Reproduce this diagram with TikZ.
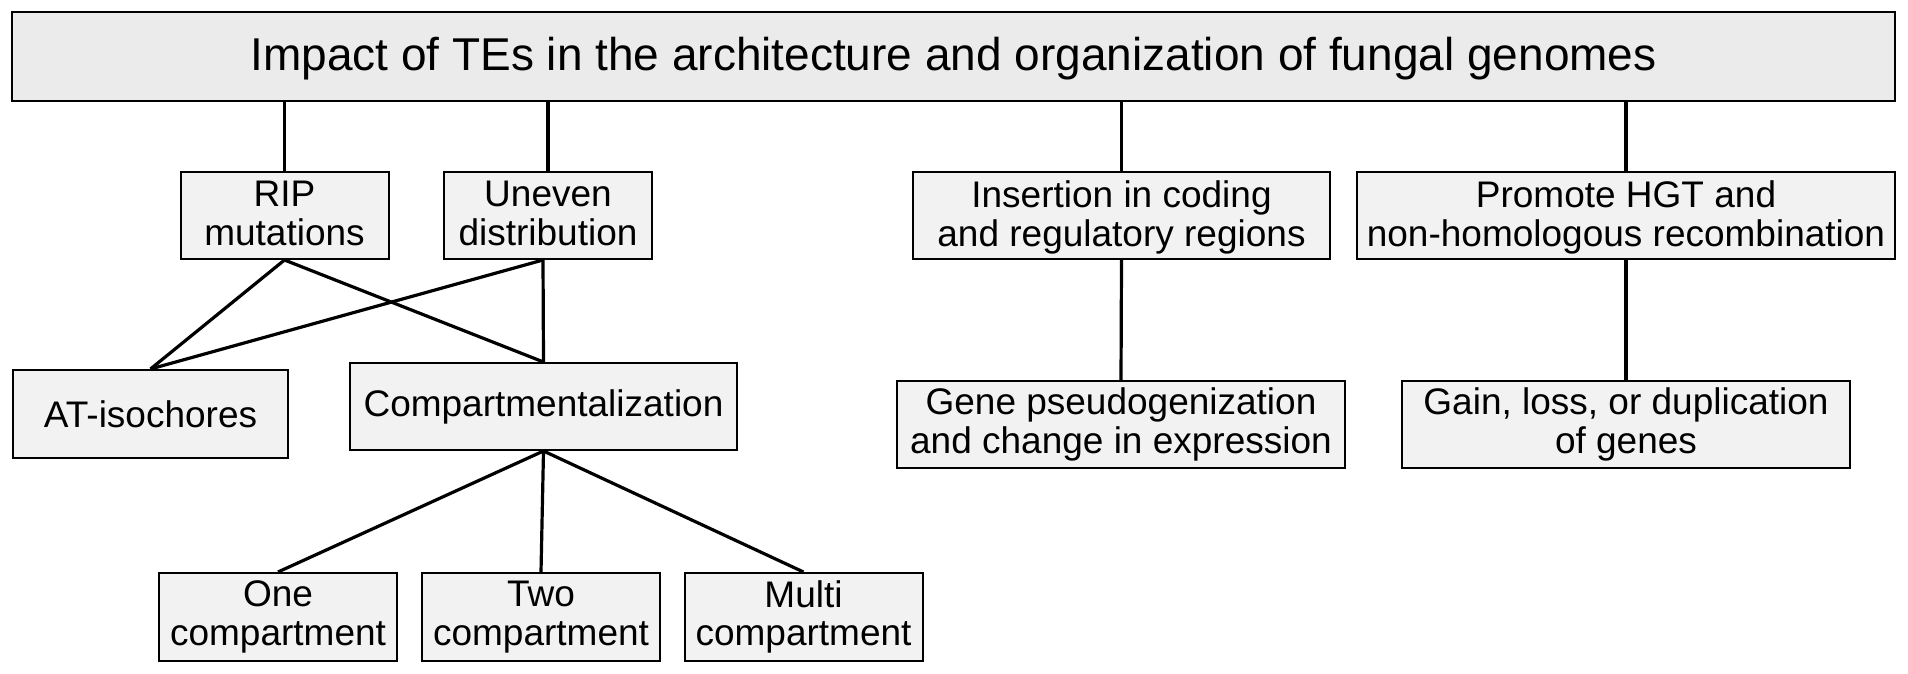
\documentclass[tikz,border=0pt]{standalone}
\usepackage{fontspec}
\setmainfont{Liberation Sans}
\definecolor{boxfill}{HTML}{F2F2F2}
\definecolor{titlefill}{HTML}{EBEBEB}
\begin{document}
\begin{tikzpicture}[x=1pt,y=-1pt,
  box/.style={draw=black,line width=2pt,fill=boxfill,inner sep=0pt,minimum height=87pt,
    align=center,font=\fontsize{37}{38.5}\selectfont},
  toprow/.style={box,text depth=4pt},
  link/.style={line width=3.2pt}]
\useasboundingbox (0,0) rectangle (1908,674);
\node[box,fill=titlefill,minimum width=1883pt,minimum height=89pt,text depth=5pt,font=\fontsize{46}{50}\selectfont] (title) at (953.5,56.5) {Impact of TEs in the architecture and organization of fungal genomes};
\node[toprow,minimum width=208pt] (rip) at (284.5,215.5) {RIP\\mutations};
\node[toprow,minimum width=208pt] (uneven) at (548,215.5) {Uneven\\distribution};
\node[toprow,minimum width=417pt] (ins) at (1121.5,215.5) {Insertion in coding\\and regulatory regions};
\node[toprow,minimum width=538pt] (hgt) at (1626,215.5) {Promote HGT and\\non-homologous recombination};
\node[box,minimum width=275pt,minimum height=88pt] (at) at (150.5,414) {AT-isochores};
\node[box,minimum width=387pt] (comp) at (543.5,406.5) {Compartmentalization};
\node[box,minimum width=448pt] (gene) at (1121,424.5) {Gene pseudogenization\\and change in expression};
\node[box,minimum width=448pt] (gain) at (1626,424.5) {Gain, loss, or duplication\\of genes};
\node[box,minimum width=238pt,minimum height=88pt] (one) at (278,617) {One\\compartment};
\node[box,minimum width=238pt,minimum height=88pt] (two) at (541,617) {Two\\compartment};
\node[box,minimum width=238pt,minimum height=88pt] (multi) at (803.5,617) {Multi\\compartment};
\coordinate (unevenb) at ([xshift=-5pt]uneven.south);
\draw[link] (title.south -| rip) -- (rip.north);
\draw[link] (title.south -| uneven) -- (uneven.north);
\draw[link] (title.south -| ins) -- (ins.north);
\draw[link] (title.south -| hgt) -- (hgt.north);
\draw[link] (rip.south) -- (at.north);
\draw[link] (rip.south) -- (comp.north);
\draw[link] (unevenb) -- (at.north);
\draw[link] (unevenb) -- (comp.north);
\draw[link] (ins.south) -- (gene.north);
\draw[link] (hgt.south) -- (gain.north);
\draw[link] (comp.south) -- (one.north);
\draw[link] (comp.south) -- (two.north);
\draw[link] (comp.south) -- (multi.north);
\end{tikzpicture}
\end{document}
